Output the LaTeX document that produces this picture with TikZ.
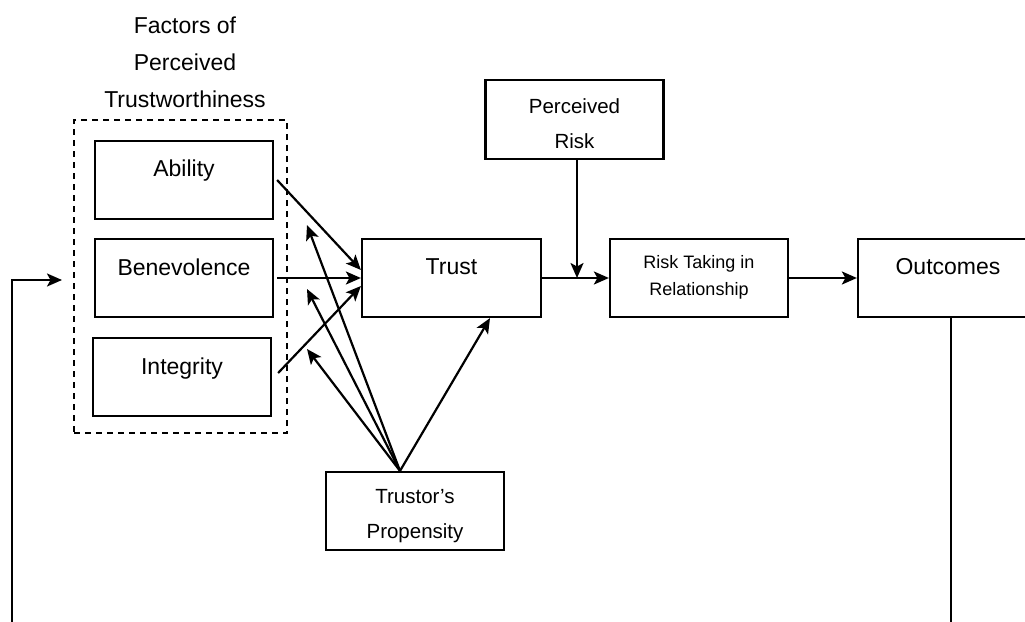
\documentclass[tikz,border=0pt]{standalone}
\usepackage{fontspec}
\setmainfont{Liberation Sans}
\usetikzlibrary{arrows.meta}
\begin{document}
\begin{tikzpicture}[x=1pt,y=-1pt, line width=2.2pt,
 box/.style={draw, rectangle, minimum width=178pt, minimum height=78pt, inner sep=0pt},
 big/.style={font=\fontsize{23}{37}\selectfont, anchor=base, align=center, inner sep=0pt},
 mid/.style={font=\fontsize{20.5}{34.5}\selectfont, anchor=base, align=center, inner sep=0pt},
 small/.style={font=\fontsize{18}{27}\selectfont, anchor=base, align=center, inner sep=0pt},
 arr/.style={-{Stealth[length=15pt,width=13pt,inset=3.5pt]}},
 dashbox/.style={draw, rectangle, dash pattern=on 6pt off 5pt, inner sep=0pt},
]
\clip (0,0) rectangle (1025,621);
% boxes
\node[box] (ability) at (184,180) {};
\node[box] (benev) at (184,278) {};
\node[box] (integ) at (182,377) {};
\node[box, minimum width=179pt] (trust) at (451.5,278) {};
\node[box, minimum height=79pt] (prisk) at (574.5,119.5) {};
\node[box] (rtake) at (699,278) {};
\node[box, minimum width=180pt] (outc) at (948,278) {};
\node[box] (prop) at (415,511) {};
\node[dashbox, minimum width=213pt, minimum height=313pt] (factors) at (180.5,276.5) {};
% texts
\node[big] (tTitle) at (185,107) {Factors of\\Perceived\\Trustworthiness};
\node[big] (tAbility) at (184,176) {Ability};
\node[big] (tBenev) at (184,275) {Benevolence};
\node[big] (tInteg) at (182,374) {Integrity};
\node[big] (tTrust) at (451.5,274) {Trust};
\node[big] (tOut) at (948,274) {Outcomes};
\node[mid] (tRisk) at (574.5,148) {Perceived\\Risk};
\node[small] (tRT) at (699,295) {Risk Taking in\\Relationship};
\node[mid, font=\fontsize{20.5}{35}\selectfont] (tProp) at (415,538) {Trustor’s\\Propensity};
% connectors
\coordinate (pp) at ([xshift=-15pt]prop.north);
\coordinate (f1) at (307,225);
\coordinate (f2) at (307,289);
\coordinate (f3) at (307,349);
\draw[arr] ([xshift=3pt]ability.east) -- ([yshift=8pt]trust.west);
\draw[arr] ([xshift=3pt]benev.east) -- (trust.west);
\draw[arr] ([xshift=6pt,yshift=4pt]integ.east) -- ([yshift=-8pt]trust.west);
\draw[arr] (pp) -- (f1);
\draw[arr] (pp) -- (f2);
\draw[arr] (pp) -- (f3);
\draw[arr] (pp) -- ([xshift=38.5pt]trust.south);
\draw[arr] (trust.east) -- (rtake.west);
\draw[arr] ([xshift=2.5pt]prisk.south) -- ([xshift=2.5pt]prisk.south |- trust.east);
\draw[arr] (rtake.east) -- (outc.west);
\coordinate (fbR) at (951,630);
\coordinate (fbL) at (12,630);
\coordinate (fin) at (62,280);
\draw ([xshift=3pt]outc.south) -- (fbR);
\draw[arr] (fbL) |- (fin);
\end{tikzpicture}
\end{document}
